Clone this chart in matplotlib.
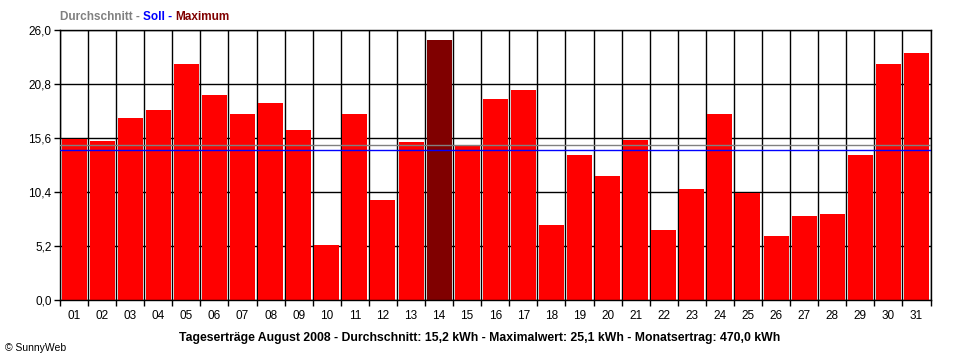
import numpy as np
import matplotlib
matplotlib.use("Agg")
import matplotlib.pyplot as plt

# daily yields August 2008 (kWh)
days = [f"{d:02d}" for d in range(1, 32)]
yields = [15.56, 15.34, 17.55, 18.32, 22.75, 19.77, 17.94, 19.00, 16.40, 5.32,
          17.94, 9.66, 15.24, 25.10, 14.86, 19.38, 20.25, 7.25, 13.99, 11.97,
          15.44, 6.77, 10.72, 17.94, 10.33, 6.19, 8.12, 8.31, 13.99, 22.75, 23.81]
avg_line = 15.0    # Durchschnitt (grey line)
soll_line = 14.45  # Soll (blue line)
y_ticks = [0, 5.2, 10.4, 15.6, 20.8, 26.0]
y_labels = ["0,0", "5,2", "10,4", "15,6", "20,8", "26,0"]
footer = ("Tageserträge August 2008 - Durchschnitt: 15,2 kWh - "
          "Maximalwert: 25,1 kWh - Monatsertrag: 470,0 kWh")

plt.rcParams['font.family'] = ['Liberation Sans', 'DejaVu Sans']

fig = plt.figure(figsize=(9.6, 3.6), dpi=100)
ax = fig.add_axes([60 / 960, 1 - 300.3 / 360, 870.5 / 960, 270 / 360])

x = np.arange(1, len(days) + 1)
imax = int(np.argmax(yields))
colors = ['#ff0000'] * len(yields)
colors[imax] = '#800000'
ax.bar(x, yields, width=0.89, color=colors, zorder=2)

ax.axhline(avg_line, color='#808080', lw=1.0, zorder=3)
ax.axhline(soll_line, color='#0000ff', lw=1.0, zorder=3)

ax.set_xlim(0.5, len(days) + 0.5)
ax.set_ylim(0, 26)

# grid: horizontal at y ticks, vertical at day boundaries
ax.set_yticks(y_ticks)
ax.set_yticklabels(y_labels)
ax.set_xticks(np.arange(0.5, len(days) + 1, 1.0))
ax.set_xticklabels([])
ax.set_xticks(x, minor=True)
ax.set_xticklabels(days, minor=True)
ax.grid(True, which='major', color='black', lw=1.0, zorder=0)
ax.set_axisbelow(True)

ax.tick_params(axis='both', which='major', direction='out', length=4,
               width=1, color='black', labelsize=8.5, pad=2)
ax.tick_params(axis='x', which='minor', length=0, labelsize=8.5, pad=7)
for s in ax.spines.values():
    s.set_color('black')
    s.set_linewidth(1.0)

# legend text at top left, coloured parts
renderer = fig.canvas.get_renderer()
parts = [("Durchschnitt - ", '#808080'), ("Soll - ", '#0000ff'), ("Maximum", '#800000')]
xpos = 60
for txt, col in parts:
    t = fig.text(xpos / 960, 1 - 17 / 360, txt, color=col, fontsize=8.5,
                 fontweight='bold', va='center', ha='left')
    bb = t.get_window_extent(renderer=renderer)
    xpos += bb.width

fig.text(480 / 960, 1 - 338.5 / 360, footer, fontsize=8.8, fontweight='bold',
         ha='center', va='center')
fig.text(5 / 960, 1 - 348 / 360, "© SunnyWeb", fontsize=7.5, ha='left', va='center')

fig.savefig("out.png", dpi=100)
